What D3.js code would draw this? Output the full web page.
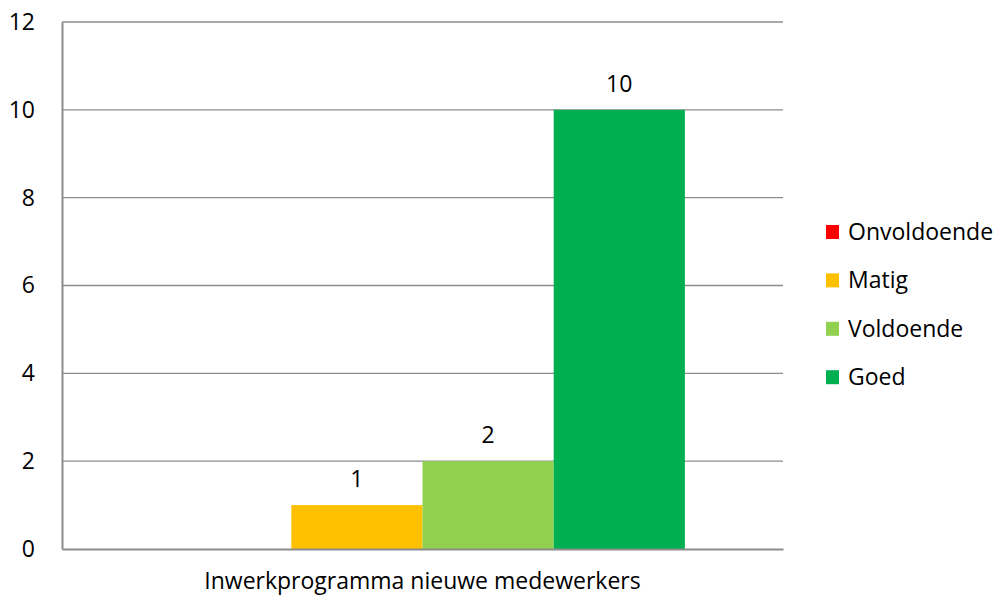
<!DOCTYPE html>
<html><head><meta charset="utf-8">
<script src="https://cdn.jsdelivr.net/npm/d3@7"></script>
<style>body{margin:0;background:#fff;} text{font-family:"Open Sans", sans-serif;}</style>
</head><body>
<svg id="c" width="997" height="595"></svg>
<script>
const category = "Inwerkprogramma nieuwe medewerkers";
const seriesNames = ["Onvoldoende", "Matig", "Voldoende", "Goed"];
const seriesValues = [0, 1, 2, 10];
const seriesColors = ["#FF0000", "#FFC000", "#92D050", "#00B050"];
const yTicks = [0, 2, 4, 6, 8, 10, 12];

(function () {
const svg = d3.select("#c");
const mLeft = 62, mRight = 783, mTop = 22, mBottom = 549;
const fs = "23px";

const x0 = d3.scaleBand().domain([category]).range([mLeft, mRight]).paddingInner(0).paddingOuter(0.187);
const x1 = d3.scaleBand().domain(seriesNames).range([0, x0.bandwidth()]).padding(0);
const y = d3.scaleLinear().domain([0, 12]).range([mBottom, mTop]);

// gridlines
svg.append("g").selectAll("line").data(yTicks.filter(d => d > 0)).join("line")
  .attr("x1", mLeft).attr("x2", mRight)
  .attr("y1", d => y(d)).attr("y2", d => y(d))
  .attr("stroke", "#8c8c8c").attr("stroke-width", 1.3);

// y axis
const yAxis = d3.axisLeft(y).tickValues(yTicks).tickSize(0).tickPadding(27);
const gy = svg.append("g").attr("transform", `translate(${mLeft},0)`).call(yAxis);
gy.select(".domain").attr("stroke", "#8c8c8c").attr("stroke-width", 2);
gy.selectAll("text").style("font-size", fs).attr("fill", "#000");

// bars
const data = seriesNames.map((n, i) => ({name: n, value: seriesValues[i], color: seriesColors[i]}));
const g = svg.append("g").attr("transform", `translate(${x0(category)},0)`);
g.selectAll("rect").data(data).join("rect")
  .attr("x", d => x1(d.name)).attr("width", x1.bandwidth())
  .attr("y", d => y(d.value)).attr("height", d => y(0) - y(d.value))
  .attr("fill", d => d.color);

g.selectAll("text.val").data(data.filter(d => d.value > 0)).join("text")
  .attr("class", "val")
  .attr("x", d => x1(d.name) + x1.bandwidth() / 2)
  .attr("y", d => y(d.value) - 18)
  .attr("text-anchor", "middle").style("font-size", fs).text(d => d.value);

// x axis
const xAxis = d3.axisBottom(x0).tickSize(0).tickPadding(0);
const gx = svg.append("g").attr("transform", `translate(0,${mBottom})`).call(xAxis);
gx.select(".domain").attr("stroke", "#8c8c8c").attr("stroke-width", 2);
gx.selectAll("text").style("font-size", fs).attr("fill", "#000").attr("dy", null).attr("y", 40);

// legend
const lg = svg.append("g");
const items = lg.selectAll("g").data(data).join("g")
  .attr("transform", (d, i) => `translate(826,${232 + i * 48.4})`);
items.append("rect").attr("x", 0).attr("y", -7).attr("width", 13).attr("height", 14).attr("fill", d => d.color);
items.append("text").attr("x", 22).attr("y", 0).attr("dy", "0.35em").style("font-size", fs).text(d => d.name);
})();
</script>
</body></html>
